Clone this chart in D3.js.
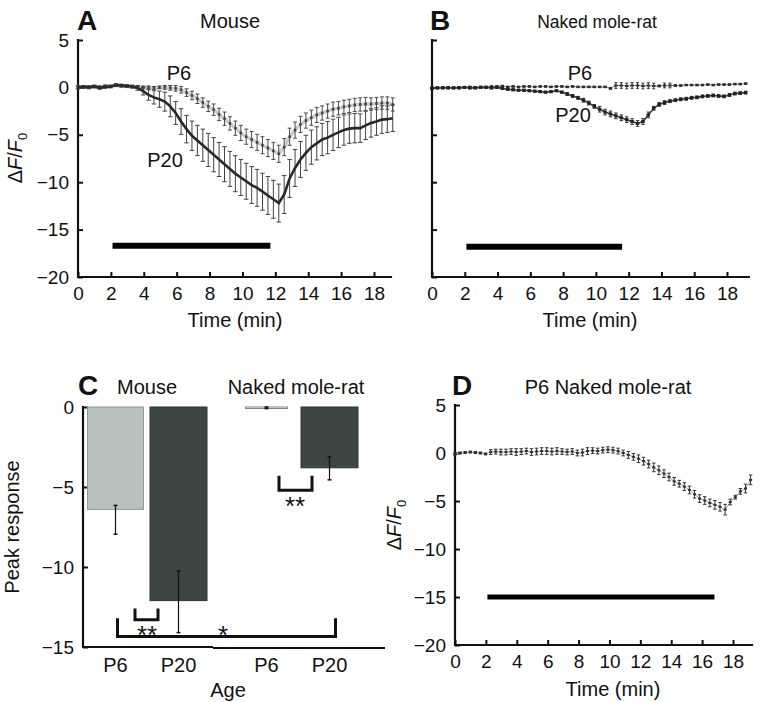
<!DOCTYPE html>
<html>
<head>
<meta charset="utf-8">
<script src="https://cdn.jsdelivr.net/npm/d3@7/dist/d3.min.js"></script>
<style>
  html, body { margin: 0; padding: 0; background: #fff; }
  svg { display: block; font-family: "Liberation Sans", Arial, Helvetica, sans-serif; }
  text { fill: #111; }
</style>
</head>
<body>
<svg id="chart" width="767" height="702"></svg>
<script>
// ---------------- DATA ----------------
const timeMin = [0,0.33,0.66,0.99,1.32,1.65,1.98,2.31,2.64,2.97,3.3,3.63,3.96,4.29,4.62,4.95,5.28,5.61,5.94,6.27,6.6,6.93,7.26,7.59,7.92,8.25,8.58,8.91,9.24,9.57,9.9,10.23,10.56,10.89,11.22,11.55,11.88,12.21,12.54,12.87,13.2,13.53,13.86,14.19,14.52,14.85,15.18,15.51,15.84,16.17,16.5,16.83,17.16,17.49,17.82,18.15,18.48,18.81,19.14];

// Panel A: mouse
const mouseP6 = [0.05,0.1,0.05,0.1,0.05,0.15,0.1,0.2,0.15,0.1,0.05,0,0,0,-0.05,0,0,-0.05,-0.1,-0.25,-0.55,-0.85,-1.2,-1.6,-2.0,-2.35,-2.85,-3.3,-3.8,-4.3,-4.8,-5.2,-5.5,-5.8,-6.1,-6.4,-6.7,-7.0,-6.3,-5.2,-4.5,-3.9,-3.5,-3.2,-2.9,-2.7,-2.5,-2.3,-2.2,-2.05,-1.95,-1.85,-1.8,-1.75,-1.75,-1.7,-1.65,-1.65,-1.8];
const mouseP6Err = [0.1,0.1,0.1,0.1,0.1,0.1,0.1,0.1,0.1,0.1,0.1,0.1,0.15,0.15,0.15,0.15,0.2,0.25,0.3,0.35,0.4,0.45,0.5,0.5,0.55,0.6,0.65,0.7,0.7,0.75,0.8,0.8,0.85,0.85,0.9,0.9,0.9,0.9,0.9,0.9,0.85,0.85,0.8,0.8,0.8,0.75,0.75,0.75,0.7,0.7,0.7,0.7,0.7,0.7,0.65,0.65,0.65,0.65,0.7];
const mouseP20 = [0,0.05,0,0.1,-0.05,0.05,0.1,0.25,0.2,0.15,0.1,-0.05,-0.4,-0.8,-1.05,-1.25,-1.5,-2.0,-2.7,-3.6,-4.4,-5.1,-5.6,-6.1,-6.6,-7.1,-7.6,-8.1,-8.6,-9.1,-9.5,-9.9,-10.3,-10.6,-11.0,-11.4,-11.8,-12.2,-11.3,-9.6,-8.5,-7.6,-6.9,-6.3,-5.9,-5.5,-5.3,-5.0,-4.75,-4.5,-4.35,-4.3,-4.3,-4.0,-3.75,-3.6,-3.4,-3.35,-3.25];
const mouseP20Err = [0.15,0.15,0.15,0.15,0.15,0.15,0.15,0.15,0.15,0.15,0.15,0.25,0.4,0.55,0.7,0.85,1.0,1.1,1.2,1.35,1.45,1.55,1.6,1.7,1.75,1.8,1.8,1.85,1.85,1.9,1.9,1.9,1.95,1.95,1.95,2.0,2.0,2.0,2.0,2.0,1.95,1.9,1.85,1.8,1.75,1.7,1.7,1.65,1.6,1.6,1.55,1.55,1.5,1.5,1.5,1.45,1.45,1.4,1.4];

// Panel B: naked mole-rat
const nmrP6 = [-0.05,-0.05,0,0,-0.05,0,0,0.05,0,0.05,0.05,0.1,0.1,0.15,0.05,0.1,0.05,0.1,0.1,0.05,0.1,0.1,0.05,0.1,0.1,0.05,0.1,0.05,0.05,0.05,0.05,0.05,0.05,-0.1,0.2,0.2,0.15,0.2,0.2,0.15,0.2,0.15,0.15,0.2,0.2,0.2,0.2,0.25,0.25,0.25,0.25,0.3,0.25,0.3,0.3,0.3,0.35,0.35,0.4];
const nmrP6Err = [0.08,0.08,0.08,0.08,0.08,0.08,0.08,0.08,0.08,0.08,0.08,0.08,0.08,0.08,0.08,0.08,0.08,0.08,0.08,0.08,0.08,0.08,0.08,0.08,0.08,0.08,0.08,0.08,0.08,0.08,0.08,0.08,0.08,0.1,0.3,0.3,0.3,0.3,0.3,0.3,0.3,0.3,0.1,0.25,0.25,0.1,0.08,0.08,0.08,0.08,0.08,0.08,0.08,0.08,0.08,0.08,0.08,0.08,0.08];
const nmrP20 = [-0.1,-0.05,-0.05,-0.05,-0.05,-0.05,0,-0.05,-0.05,0,0,-0.05,0,-0.1,-0.2,-0.25,-0.3,-0.3,-0.35,-0.4,-0.45,-0.5,-0.45,-0.35,-0.5,-0.7,-0.9,-1.1,-1.35,-1.65,-2.0,-2.3,-2.6,-2.8,-3.0,-3.2,-3.4,-3.6,-3.8,-3.6,-2.9,-2.2,-1.8,-1.6,-1.45,-1.35,-1.25,-1.2,-1.1,-1.05,-0.95,-0.9,-0.85,-0.9,-0.95,-0.8,-0.65,-0.6,-0.55];
const nmrP20Err = [0.1,0.1,0.1,0.1,0.1,0.1,0.1,0.1,0.1,0.1,0.1,0.1,0.1,0.1,0.1,0.1,0.1,0.1,0.1,0.1,0.1,0.1,0.1,0.1,0.1,0.15,0.15,0.15,0.2,0.2,0.2,0.3,0.3,0.3,0.3,0.3,0.3,0.3,0.3,0.3,0.3,0.2,0.2,0.2,0.15,0.15,0.15,0.15,0.15,0.15,0.15,0.15,0.15,0.15,0.15,0.15,0.15,0.15,0.15];

// Panel D: P6 naked mole-rat, long exposure
const longP6 = [-0.1,0,0.05,0.1,0.05,0,-0.1,0.1,0.15,0.1,0.1,0.15,0.1,0.15,0.2,0.1,0.15,0.2,0.2,0.15,0.2,0.15,0.1,0.15,0,0.05,0.2,0.25,0.2,0.3,0.35,0.3,0.2,0,-0.2,-0.4,-0.6,-0.85,-1.15,-1.5,-1.8,-2.15,-2.5,-2.95,-3.2,-3.5,-3.85,-4.3,-4.75,-4.95,-5.2,-5.4,-5.6,-5.9,-5.1,-4.6,-4.0,-3.7,-2.8];
const longP6Err = [0.1,0.1,0.1,0.1,0.1,0.1,0.1,0.25,0.25,0.3,0.3,0.3,0.35,0.3,0.3,0.35,0.35,0.35,0.35,0.35,0.35,0.3,0.3,0.3,0.3,0.35,0.35,0.3,0.3,0.3,0.3,0.3,0.3,0.3,0.35,0.35,0.4,0.4,0.4,0.45,0.45,0.4,0.4,0.4,0.35,0.4,0.4,0.4,0.4,0.4,0.4,0.45,0.45,0.55,0.3,0.2,0.3,0.45,0.5];

// Stimulus periods (min) and their drawn level
const stimA = [2.1, 11.7], stimALevel = -16.7;
const stimB = [2.1, 11.6], stimBLevel = -16.8;
const stimD = [2.1, 16.8], stimDLevel = -15;

// Panel C: peak responses
const peakSpecies = ["Mouse", "Mouse", "Naked mole-rat", "Naked mole-rat"];
const peakAges = ["P6", "P20", "P6", "P20"];
const peakValues = [-6.4, -12.1, -0.05, -3.8];
const peakErrHigh = [-6.15, -10.25, 0.0, -3.1];
const peakErrLow = [-7.95, -14.1, -0.1, -4.55];

const timeTicks = [0,2,4,6,8,10,12,14,16,18];
const dffTicks = [5,0,-5,-10,-15,-20];
const peakTicks = [0,-5,-10,-15];

// ---------------- STYLE ----------------
const TICKFONT = 19;
const FONT = 20;
const svg = d3.select("#chart");

function axisStyle(g) {
  g.selectAll(".domain").remove();
  g.selectAll(".tick line").attr("stroke", "#111").attr("stroke-width", 2);
  g.selectAll(".tick text").attr("font-size", TICKFONT).attr("fill", "#111")
    .attr("font-family", "Liberation Sans, Arial, sans-serif");
}

function drawAxes(x, y, xMax, showY, leftX, bottomY, topY) {
  const gx = svg.append("g").attr("transform", `translate(0,${bottomY})`)
    .call(d3.axisBottom(x).tickValues(timeTicks).tickFormat(d3.format("d"))
      .tickSizeInner(-5).tickSizeOuter(0).tickPadding(10));
  axisStyle(gx);
  const gy = svg.append("g").attr("transform", `translate(${leftX},0)`)
    .call(d3.axisLeft(y).tickValues(dffTicks).tickFormat(showY ? d3.format("d") : "")
      .tickSizeInner(-5).tickSizeOuter(0).tickPadding(9));
  axisStyle(gy);
  svg.append("line").attr("x1", leftX).attr("x2", x(xMax)).attr("y1", bottomY).attr("y2", bottomY)
    .attr("stroke", "#111").attr("stroke-width", 2.2);
  svg.append("line").attr("x1", leftX).attr("x2", leftX).attr("y1", topY - 1).attr("y2", bottomY + 1)
    .attr("stroke", "#111").attr("stroke-width", 2.2);
}

function errBars(x, y, vals, errs, color, cap, width) {
  const g = svg.append("g").attr("stroke", color).attr("stroke-width", width || 1);
  timeMin.forEach((t, i) => {
    const v = vals[i], e = errs[i];
    const X = x(t);
    g.append("line").attr("x1", X).attr("x2", X).attr("y1", y(v + e)).attr("y2", y(v - e));
    g.append("line").attr("x1", X - cap/2).attr("x2", X + cap/2).attr("y1", y(v + e)).attr("y2", y(v + e));
    g.append("line").attr("x1", X - cap/2).attr("x2", X + cap/2).attr("y1", y(v - e)).attr("y2", y(v - e));
  });
}

function seriesLine(x, y, vals, color, width, dash) {
  const line = d3.line().x((d, i) => x(timeMin[i])).y(d => y(d)).curve(d3.curveLinear);
  svg.append("path").datum(vals).attr("d", line).attr("fill", "none")
    .attr("stroke", color).attr("stroke-width", width).attr("stroke-dasharray", dash || null);
}

function markers(x, y, vals, color, w, h) {
  svg.append("g").selectAll("rect").data(vals).join("rect")
    .attr("x", (d, i) => x(timeMin[i]) - w/2).attr("y", d => y(d) - h/2)
    .attr("width", w).attr("height", h).attr("fill", color);
}

function stimBar(x, y, range, level, th) {
  svg.append("line").attr("x1", x(range[0])).attr("x2", x(range[1]))
    .attr("y1", y(level)).attr("y2", y(level)).attr("stroke", "#000").attr("stroke-width", th);
}

function text(x, y, str, opts) {
  opts = opts || {};
  return svg.append("text").attr("x", x).attr("y", y).attr("text-anchor", opts.anchor || "middle")
    .attr("font-size", opts.size || FONT).attr("font-weight", opts.weight || "normal").text(str);
}

function dffLabel(x, y) {
  const t = svg.append("text").attr("transform", `translate(${x},${y}) rotate(-90)`)
    .attr("text-anchor", "middle").attr("font-size", FONT);
  t.append("tspan").text("\u0394");
  t.append("tspan").attr("font-style", "italic").text("F");
  t.append("tspan").text("/");
  t.append("tspan").attr("font-style", "italic").text("F");
  t.append("tspan").attr("font-size", 13).attr("dy", 5).text("0");
}

// ---------------- PANEL A ----------------
{
  const x = d3.scaleLinear().domain([0, 18]).range([78, 374]);
  const y = d3.scaleLinear().domain([-20, 5]).range([277, 40]);
  drawAxes(x, y, 19.1, true, 78, 277, 40);
  stimBar(x, y, stimA, stimALevel, 6);
  // P6 (grey)
  seriesLine(x, y, mouseP6, "#c9cecc", 3.5);
  errBars(x, y, mouseP6, mouseP6Err, "#454b4a", 4, 1);
  markers(x, y, mouseP6, "#3f4443", 2.5, 2.5);
  // P20 (dark)
  errBars(x, y, mouseP20, mouseP20Err, "#3e4544", 4.5, 1);
  seriesLine(x, y, mouseP20, "#262a29", 2.6);
  text(179, 80, "P6");
  text(165, 167, "P20");
  text(87, 30, "A", {size: 28, weight: "bold"});
  text(230, 28, "Mouse");
  text(235, 327, "Time (min)");
  dffLabel(22, 158);
}

// ---------------- PANEL B ----------------
{
  const x = d3.scaleLinear().domain([0, 18]).range([432, 727]);
  const y = d3.scaleLinear().domain([-20, 5]).range([277, 40]);
  drawAxes(x, y, 19.4, false, 432, 277, 40);
  stimBar(x, y, stimB, stimBLevel, 6);
  seriesLine(x, y, nmrP6, "#8a8f8e", 1);
  errBars(x, y, nmrP6, nmrP6Err, "#333", 3, 1);
  markers(x, y, nmrP6, "#2c2f2f", 3.5, 2);
  errBars(x, y, nmrP20, nmrP20Err, "#333", 3.5, 1);
  seriesLine(x, y, nmrP20, "#3a3e3d", 1.6);
  markers(x, y, nmrP20, "#222", 3.5, 3);
  text(580, 80, "P6");
  text(573, 122, "P20");
  text(440, 30, "B", {size: 28, weight: "bold"});
  text(597, 28, "Naked mole-rat", {size: 17.5});
  text(590, 327, "Time (min)");
}

// ---------------- PANEL C ----------------
{
  const y = d3.scaleLinear().domain([-15, 0]).range([647, 407]);
  const xs = d3.scalePoint().domain(["Mouse", "Naked mole-rat"]).range([147, 298]);
  const xa = d3.scalePoint().domain(["P6", "P20"]).range([-31.5, 31.5]);
  const cx = i => xs(peakSpecies[i]) + xa(peakAges[i]);
  const barFill = ["#b7c1be", "#3c4645", "#ffffff", "#3c4645"];
  const barStroke = ["#8e9896", "#2e3534", "#7d8482", "#2e3534"];
  const barW = [56, 57, 42, 57];

  const gy = svg.append("g").attr("transform", "translate(83,0)")
    .call(d3.axisLeft(y).tickValues(peakTicks).tickFormat(d3.format("d"))
      .tickSizeInner(-5).tickSizeOuter(0).tickPadding(9));
  axisStyle(gy);

  peakValues.forEach((v, i) => {
    const X = cx(i);
    const h = Math.max(1.5, y(v) - y(0));
    svg.append("rect").attr("x", X - barW[i]/2).attr("y", y(0)).attr("width", barW[i]).attr("height", h)
      .attr("fill", barFill[i]).attr("stroke", barStroke[i]).attr("stroke-width", 1);
    svg.append("line").attr("x1", X).attr("x2", X).attr("y1", y(peakErrHigh[i])).attr("y2", y(peakErrLow[i]))
      .attr("stroke", "#111").attr("stroke-width", 1.2);
    [peakErrHigh[i], peakErrLow[i]].forEach(e => {
      svg.append("line").attr("x1", X - 2).attr("x2", X + 2).attr("y1", y(e)).attr("y2", y(e))
        .attr("stroke", "#111").attr("stroke-width", 1.5);
    });
  });

  svg.append("line").attr("x1", 83).attr("x2", 83).attr("y1", 406).attr("y2", 648)
    .attr("stroke", "#111").attr("stroke-width", 2.2);
  svg.append("line").attr("x1", 82).attr("x2", 213).attr("y1", 647).attr("y2", 647)
    .attr("stroke", "#111").attr("stroke-width", 2.2);
  svg.append("line").attr("x1", 213).attr("x2", 385).attr("y1", 648).attr("y2", 648)
    .attr("stroke", "#111").attr("stroke-width", 2.2);

  // significance brackets
  const br = (x1, x2, yTop, yBot) => svg.append("path")
    .attr("d", `M${x1},${y(yTop)}V${y(yBot)}H${x2}V${y(yTop)}`)
    .attr("fill", "none").attr("stroke", "#111").attr("stroke-width", 3);
  br(cx(0) + 2, cx(3) + 6, -13.2, -14.35);
  br(xs("Mouse") - 12, xs("Mouse") + 11, -12.6, -13.3);
  br(xs("Naked mole-rat") - 19, xs("Naked mole-rat") + 14, -4.3, -5.2);
  text(147, 644, "**", {size: 26});
  text(223, 644, "*", {size: 26});
  text(295, 515, "**", {size: 26});

  peakValues.forEach((v, i) => text(cx(i), 672, peakAges[i]));
  text(228, 697, "Age");
  text(147, 394, "Mouse");
  text(296, 394, "Naked mole-rat");
  text(88, 395, "C", {size: 28, weight: "bold"});
  svg.append("text").attr("transform", "translate(19,527) rotate(-90)")
    .attr("text-anchor", "middle").attr("font-size", FONT).text("Peak response");
}

// ---------------- PANEL D ----------------
{
  const x = d3.scaleLinear().domain([0, 18]).range([455, 733]);
  const y = d3.scaleLinear().domain([-20, 5]).range([645, 405]);
  drawAxes(x, y, 19.3, true, 455, 645, 405);
  stimBar(x, y, stimD, stimDLevel, 5);
  seriesLine(x, y, longP6, "#9aa09e", 1);
  errBars(x, y, longP6, longP6Err, "#333", 3.5, 1);
  markers(x, y, longP6, "#2c2f2f", 3, 2);
  text(462, 395, "D", {size: 28, weight: "bold"});
  text(608, 394, "P6 Naked mole-rat");
  text(613, 696, "Time (min)");
  dffLabel(401, 525);
}
</script>
</body>
</html>
